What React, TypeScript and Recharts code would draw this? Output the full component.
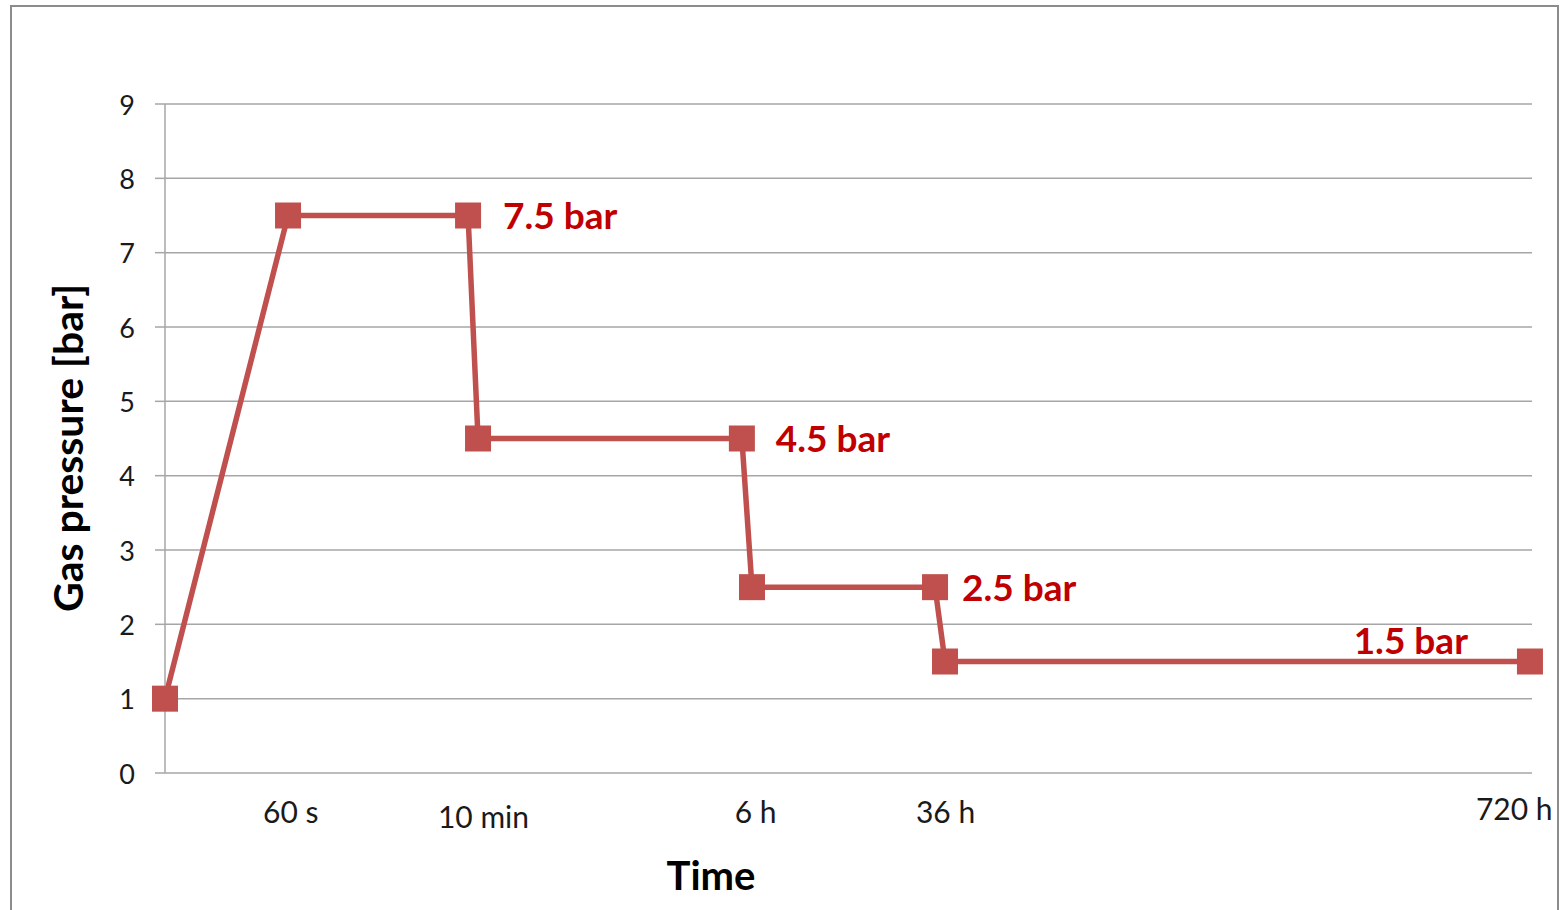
import React from "react";
import { LineChart, Line, XAxis, YAxis, CartesianGrid, LabelList } from "recharts";

// x positions on a non-linear (schematic) time axis, in percent of the axis length
const timePositions = [0, 9.0, 22.17, 22.9, 42.2, 42.94, 56.33, 57.06, 99.85];
const pressures = [1, 7.5, 7.5, 4.5, 4.5, 2.5, 2.5, 1.5, 1.5];
const pointLabels = ["", "", "7.5 bar", "", "4.5 bar", "", "2.5 bar", "", "1.5 bar"];

const xTickPositions = [9.2, 23.3, 43.2, 57.1, 98.7];
const xTickLabels = ["60 s", "10 min", "6 h", "36 h", "720 h"];
const yTicks = [0, 1, 2, 3, 4, 5, 6, 7, 8, 9];

// styling offsets (not data)
const xTickBaseline = [50, 55, 50, 50, 47];
const labelPlacement: Record<number, { dx: number; dy: number; anchor: "start" | "end" }> = {
  2: { dx: 35, dy: -1, anchor: "start" },
  4: { dx: 34, dy: -1, anchor: "start" },
  6: { dx: 27, dy: -1, anchor: "start" },
  8: { dx: -62, dy: -22, anchor: "end" },
};

const data = timePositions.map((t, i) => ({ t, p: pressures[i], label: pointLabels[i] }));

const LINE = "#c0504d";
const GRID = "#a6a6a6";
const FONT = "Lato, 'Open Sans', sans-serif";

const SquareDot = (props: any) => {
  const { cx, cy, index } = props;
  if (cx == null || cy == null) return null;
  return <rect key={`d${index}`} x={cx - 13} y={cy - 13} width={26} height={26} fill={LINE} />;
};

const XTick = (props: any) => {
  const { x, y, payload, index } = props;
  const i = xTickPositions.indexOf(payload.value);
  const label = xTickLabels[i >= 0 ? i : index];
  const off = xTickBaseline[i >= 0 ? i : index];
  return (
    <text x={x} y={y + off} textAnchor="middle" fontSize={30} fontFamily={FONT} fill="#1a1a1a">
      {label}
    </text>
  );
};

const YTick = (props: any) => {
  const { y, payload } = props;
  return (
    <text x={135} y={y} textAnchor="end" dominantBaseline="central" fontSize={27} fontFamily={FONT} fill="#1a1a1a">
      {payload.value}
    </text>
  );
};

const PointLabel = (props: any) => {
  const { x, y, index, value } = props;
  if (!value) return null;
  const pl = labelPlacement[index] || { dx: 30, dy: 0, anchor: "start" };
  return (
    <text
      x={x + pl.dx}
      y={y + pl.dy}
      textAnchor={pl.anchor}
      dominantBaseline="central"
      fontSize={37}
      fontWeight={700}
      fontFamily={FONT}
      fill="#c00000"
    >
      {value}
    </text>
  );
};

export default function App() {
  return (
    <div
      style={{
        position: "absolute",
        left: 0,
        top: 0,
        width: 1565,
        height: 910,
        overflow: "hidden",
        background: "#fff",
      }}
    >
      <div
        style={{
          position: "absolute",
          left: 10,
          top: 5,
          width: 1549,
          height: 930,
          border: "2px solid #8c8c8c",
          boxSizing: "border-box",
        }}
      />
      <div style={{ position: "absolute", left: 0, top: 0 }}>
        <LineChart width={1565} height={910} data={data} margin={{ top: 104, right: 33, bottom: 77, left: 105 }}>
          <CartesianGrid horizontal vertical={false} stroke={GRID} strokeWidth={1.5} />
          <XAxis
            dataKey="t"
            type="number"
            domain={[0, 100]}
            ticks={xTickPositions}
            tick={<XTick />}
            tickSize={0}
            tickMargin={0}
            axisLine={false}
            tickLine={false}
            height={60}
            interval={0}
          />
          <YAxis
            type="number"
            domain={[0, 9]}
            ticks={yTicks}
            tick={<YTick />}
            width={60}
            tickSize={10}
            axisLine={{ stroke: GRID, strokeWidth: 1.5 }}
            tickLine={{ stroke: GRID, strokeWidth: 1.5 }}
            interval={0}
          />
          <Line
            type="linear"
            dataKey="p"
            stroke={LINE}
            strokeWidth={5.5}
            dot={<SquareDot />}
            activeDot={false}
            isAnimationActive={false}
          >
            <LabelList dataKey="label" content={<PointLabel />} />
          </Line>
        </LineChart>
      </div>
      <div
        style={{
          position: "absolute",
          left: 711,
          top: 875,
          transform: "translate(-50%, -50%)",
          fontFamily: FONT,
          fontWeight: 700,
          fontSize: 40,
          color: "#000",
          whiteSpace: "nowrap",
          lineHeight: 1,
        }}
      >
        Time
      </div>
      <div
        style={{
          position: "absolute",
          left: 67,
          top: 448,
          transform: "translate(-50%, -50%) rotate(-90deg)",
          fontFamily: FONT,
          fontWeight: 700,
          fontSize: 41,
          color: "#000",
          whiteSpace: "nowrap",
          lineHeight: 1,
        }}
      >
        Gas pressure [bar]
      </div>
    </div>
  );
}
